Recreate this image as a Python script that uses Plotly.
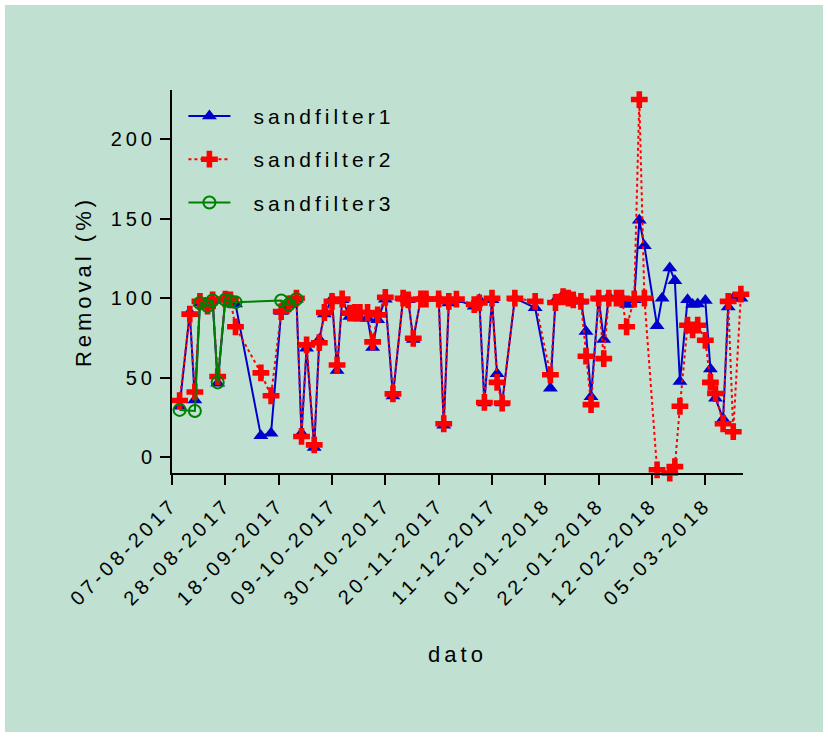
import plotly.graph_objects as go

# ---------------- data ----------------
dates = [
    "2017-08-10", "2017-08-14", "2017-08-16", "2017-08-18", "2017-08-21", "2017-08-23",
    "2017-08-25", "2017-08-28", "2017-08-30", "2017-09-01", "2017-09-11", "2017-09-15",
    "2017-09-19", "2017-09-22", "2017-09-25", "2017-09-27", "2017-09-29", "2017-10-02",
    "2017-10-04", "2017-10-06", "2017-10-09", "2017-10-11", "2017-10-13", "2017-10-16",
    "2017-10-18", "2017-10-20", "2017-10-23", "2017-10-25", "2017-10-27", "2017-10-30",
    "2017-11-02", "2017-11-06", "2017-11-08", "2017-11-10", "2017-11-13", "2017-11-15",
    "2017-11-20", "2017-11-22", "2017-11-24", "2017-11-27", "2017-12-04", "2017-12-06",
    "2017-12-08", "2017-12-11", "2017-12-13", "2017-12-15", "2017-12-20", "2017-12-28",
    "2018-01-03", "2018-01-05", "2018-01-08", "2018-01-10", "2018-01-12", "2018-01-15",
    "2018-01-17", "2018-01-19", "2018-01-22", "2018-01-24", "2018-01-26", "2018-01-29",
    "2018-01-31", "2018-02-02", "2018-02-05", "2018-02-07", "2018-02-09", "2018-02-14",
    "2018-02-16", "2018-02-19", "2018-02-21", "2018-02-23", "2018-02-26", "2018-02-28",
    "2018-03-02", "2018-03-05", "2018-03-07", "2018-03-09", "2018-03-12", "2018-03-14",
    "2018-03-16", "2018-03-19",
]

sandfilter1 = [
    32, 91, 36, 97, 95, 98.5, 46.5, 99.4, 98, 96.4, 13.5, 15,
    91.6, 96, 99.4, 15, 68.5, 6, 74, 90, 99.5, 54.5, 99, 88.4,
    88, 87.4, 87.4, 69, 86.4, 99.4, 38.5, 100, 99, 74, 100, 100,
    100, 20, 97, 99, 95, 99, 34, 99, 52.4, 34, 100, 94,
    43.4, 98.5, 102, 100, 99, 98, 79, 38, 100, 74, 101, 100,
    100, 96, 99, 149, 133, 82.6, 100, 119, 111, 47.5, 99, 96,
    96.4, 98.5, 55.5, 37, 24, 94.5, 100, 100,
]

sandfilter2 = [
    35.6, 90, 41, 98, 95, 99, 50.7, 99.4, 99, 82, 53, 38.6,
    91.6, 96.4, 100, 13, 70.6, 7.7, 72, 91, 98, 58, 99.5, 90.6,
    91, 91, 91, 72.5, 89.5, 100.5, 39.8, 100, 99, 74.8, 99.5, 99.5,
    99.5, 21, 98, 99.4, 96, 97, 34.4, 100, 47, 34, 100, 98,
    51.8, 97.3, 101, 100, 99, 98, 63.5, 33, 100, 62, 100, 100,
    100, 82, 99.5, 225, 100, -8, None, -10, -6, 32, 83, 80,
    83, 73.5, 47, 40, 21, 98, 16, 102.5,
]

dates3 = [
    "2017-08-10", "2017-08-16", "2017-08-18", "2017-08-21", "2017-08-23", "2017-08-25",
    "2017-08-28", "2017-08-30", "2017-09-01", "2017-09-19", "2017-09-22", "2017-09-25",
]
sandfilter3 = [29.7, 29, 97, 95, 98.5, 47, 99, 98, 97.5, 98.5, 96, 99.4]

tick_dates = [
    "2017-08-07", "2017-08-28", "2017-09-18", "2017-10-09", "2017-10-30", "2017-11-20",
    "2017-12-11", "2018-01-01", "2018-01-22", "2018-02-12", "2018-03-05",
]
y_ticks = [0, 50, 100, 150, 200]

# ---------------- style ----------------
W, H = 828, 737
ML, MR, MT, MB = 172, 85, 90, 264
BG = "#C0E0D2"
FONT = "Arial, Liberation Sans, sans-serif"

fig = go.Figure()

fig.add_trace(go.Scatter(
    x=dates, y=sandfilter1, name="sandfilter1", mode="lines+markers",
    line=dict(color="#0000CC", width=2),
    marker=dict(symbol="triangle-up", size=13, color="#0000CC"),
    cliponaxis=False, legendgroup="g1",
))
fig.add_trace(go.Scatter(
    x=dates, y=sandfilter2, name="sandfilter2", mode="lines+markers",
    line=dict(color="#FF0000", width=2, dash="dot"),
    marker=dict(symbol="cross", size=14, color="#FF0000"),
    connectgaps=True, cliponaxis=False, legendgroup="g2",
))
fig.add_trace(go.Scatter(
    x=dates3, y=sandfilter3, name="sandfilter3", mode="lines+markers",
    line=dict(color="#008000", width=2),
    marker=dict(symbol="circle-open", size=12, color="#008000", line=dict(width=2)),
    cliponaxis=False, legendgroup="g3",
))

pw = W - ML - MR
ph = H - MT - MB
fig.add_shape(
    type="rect", xref="paper", yref="paper", layer="below",
    x0=(5 - ML) / pw, x1=(W - 5 - ML) / pw,
    y0=-(H - 5 - MT - ph) / ph, y1=(MT - 5) / ph + 1,
    fillcolor=BG, line=dict(width=0),
)

fig.update_layout(
    width=W, height=H,
    margin=dict(l=ML, r=MR, t=MT, b=MB),
    paper_bgcolor="white",
    plot_bgcolor="rgba(0,0,0,0)",
    font=dict(family=FONT, size=20, color="black"),
    showlegend=True,
    legend=dict(
        x=0.02, y=0.985, xanchor="left", yanchor="top",
        bgcolor="rgba(0,0,0,0)", font=dict(size=21),
        tracegroupgap=13, itemwidth=42,
    ),
    xaxis=dict(
        type="date",
        range=["2017-08-07", "2018-03-19 20:00"],
        tickvals=tick_dates, tickformat="%d-%m-%Y", tickangle=-45,
        showline=True, linecolor="black", linewidth=2,
        ticks="outside", ticklen=10, tickwidth=2, tickcolor="black",
        showgrid=False, zeroline=False,
        title=dict(text="dato", font=dict(size=22), standoff=66),
    ),
    yaxis=dict(
        range=[-10, 231],
        tickvals=y_ticks,
        showline=True, linecolor="black", linewidth=2,
        ticks="outside", ticklen=10, tickwidth=2, tickcolor="black",
        showgrid=False, zeroline=False,
        title=dict(text="Removal (%)", font=dict(size=22), standoff=25),
    ),
)

post_js = """
var gd = document.getElementById('{plot_id}');
function spaceText(){
  gd.querySelectorAll('text').forEach(function(t){ t.style.letterSpacing = '4px'; });
  gd.querySelectorAll('.legend [clip-path]').forEach(function(e){ e.removeAttribute('clip-path'); });
  gd.querySelectorAll('.legendtext').forEach(function(t){ t.style.transform = 'translateX(18px)'; });
}
spaceText();
gd.on('plotly_afterplot', spaceText);
"""

fig.write_html("out.html", config={"displayModeBar": False}, post_script=post_js)
